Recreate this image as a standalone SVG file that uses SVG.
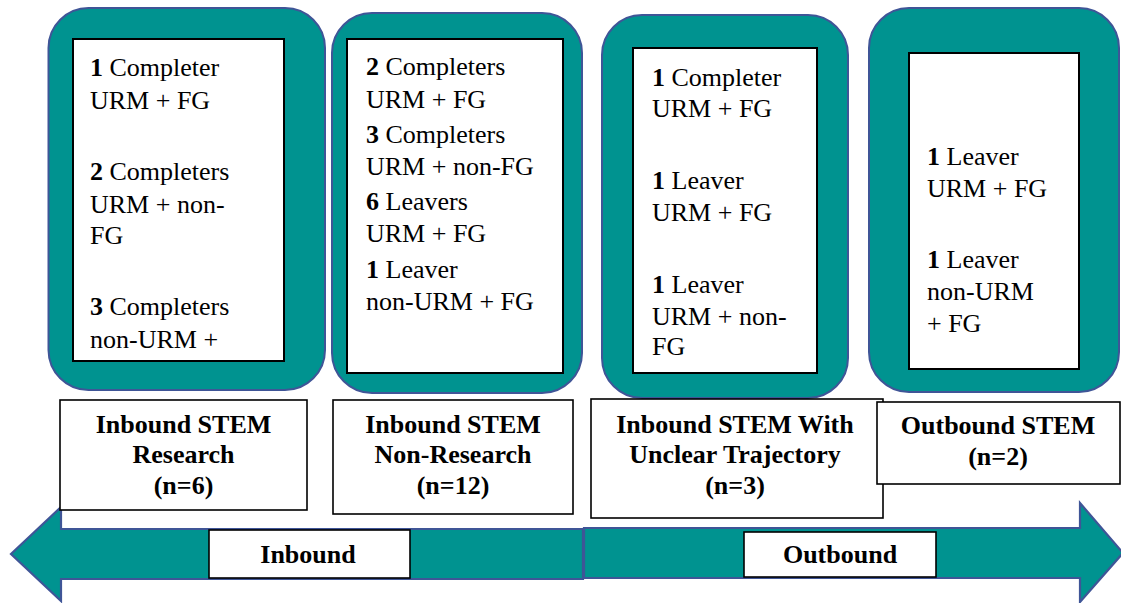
<svg xmlns="http://www.w3.org/2000/svg" width="1121" height="603" viewBox="0 0 1121 603">
<style>
.panel{fill:#009390;stroke:#3F5597;stroke-width:2}
.inner{fill:#fff;stroke:#000;stroke-width:2}
.lbl{fill:#fff;stroke:#000;stroke-width:1.6}
.arrow{fill:#009390;stroke:#3F5597;stroke-width:2.2;stroke-linejoin:miter}
.t{font-family:"Liberation Serif","Times New Roman",serif;font-size:26px;fill:#000}
.b{font-weight:bold}
.c{text-anchor:middle;font-weight:bold}
</style>
<rect width="1121" height="603" fill="#fff"/>
<g id="connectors">
<polygon class="arrow" points="583,529 61,529 61,507 11,554 61,601 61,579 583,579"/>
<polygon class="arrow" points="584,528 1080,528 1080,503 1123,553 1080,602 1080,578 584,578"/>
</g>
<g id="panel-1">
<rect class="panel" x="48.5" y="8" width="276.5" height="382" rx="40"/>
<rect class="inner" x="73" y="39" width="211" height="322"/>
<text class="t" x="90" y="76"><tspan class="b">1</tspan> Completer</text>
<text class="t" x="90" y="109">URM + FG</text>
<text class="t" x="90" y="180"><tspan class="b">2</tspan> Completers</text>
<text class="t" x="90" y="213">URM + non-</text>
<text class="t" x="90" y="244">FG</text>
<text class="t" x="90" y="315"><tspan class="b">3</tspan> Completers</text>
<text class="t" x="90" y="348">non-URM +</text>
</g>
<g id="panel-2">
<rect class="panel" x="332" y="13" width="250" height="380" rx="40"/>
<rect class="inner" x="347" y="39" width="216" height="334"/>
<text class="t" x="366" y="75"><tspan class="b">2</tspan> Completers</text>
<text class="t" x="366" y="108">URM + FG</text>
<text class="t" x="366" y="143"><tspan class="b">3</tspan> Completers</text>
<text class="t" x="366" y="175">URM + non-FG</text>
<text class="t" x="366" y="210"><tspan class="b">6</tspan> Leavers</text>
<text class="t" x="366" y="242">URM + FG</text>
<text class="t" x="366" y="278"><tspan class="b">1</tspan> Leaver</text>
<text class="t" x="366" y="310">non-URM + FG</text>
</g>
<g id="panel-3">
<rect class="panel" x="602" y="15" width="246" height="383" rx="40"/>
<rect class="inner" x="633" y="48" width="184" height="325"/>
<text class="t" x="652" y="86"><tspan class="b">1</tspan> Completer</text>
<text class="t" x="652" y="117">URM + FG</text>
<text class="t" x="652" y="189"><tspan class="b">1</tspan> Leaver</text>
<text class="t" x="652" y="221">URM + FG</text>
<text class="t" x="652" y="293"><tspan class="b">1</tspan> Leaver</text>
<text class="t" x="652" y="325">URM + non-</text>
<text class="t" x="652" y="355">FG</text>
</g>
<g id="panel-4">
<rect class="panel" x="869" y="8" width="250" height="384" rx="40"/>
<rect class="inner" x="909" y="53" width="170" height="316"/>
<text class="t" x="927" y="165"><tspan class="b">1</tspan> Leaver</text>
<text class="t" x="927" y="197">URM + FG</text>
<text class="t" x="927" y="268"><tspan class="b">1</tspan> Leaver</text>
<text class="t" x="927" y="300">non-URM</text>
<text class="t" x="927" y="332">+ FG</text>
</g>
<g id="label-1">
<rect class="lbl" x="60" y="400" width="247" height="110"/>
<text class="t c" x="183.5" y="433">Inbound STEM</text>
<text class="t c" x="183.5" y="463">Research</text>
<text class="t c" x="183.5" y="494">(n=6)</text>
</g>
<g id="label-2">
<rect class="lbl" x="333" y="400" width="240" height="114"/>
<text class="t c" x="453" y="433">Inbound STEM</text>
<text class="t c" x="453" y="463">Non-Research</text>
<text class="t c" x="453" y="494">(n=12)</text>
</g>
<g id="label-3">
<rect class="lbl" x="591" y="399" width="292" height="119"/>
<text class="t c" x="735" y="433">Inbound STEM With</text>
<text class="t c" x="735" y="463">Unclear Trajectory</text>
<text class="t c" x="735" y="494">(n=3)</text>
</g>
<g id="label-4">
<rect class="lbl" x="877" y="402" width="243" height="82"/>
<text class="t c" x="998" y="434">Outbound STEM</text>
<text class="t c" x="998" y="465">(n=2)</text>
</g>
<g id="inbound-label">
<rect class="lbl" x="209" y="530" width="201" height="48"/>
<text class="t c" x="308" y="563">Inbound</text>
</g>
<g id="outbound-label">
<rect class="lbl" x="744" y="532" width="192" height="45"/>
<text class="t c" x="840" y="563">Outbound</text>
</g>
</svg>
